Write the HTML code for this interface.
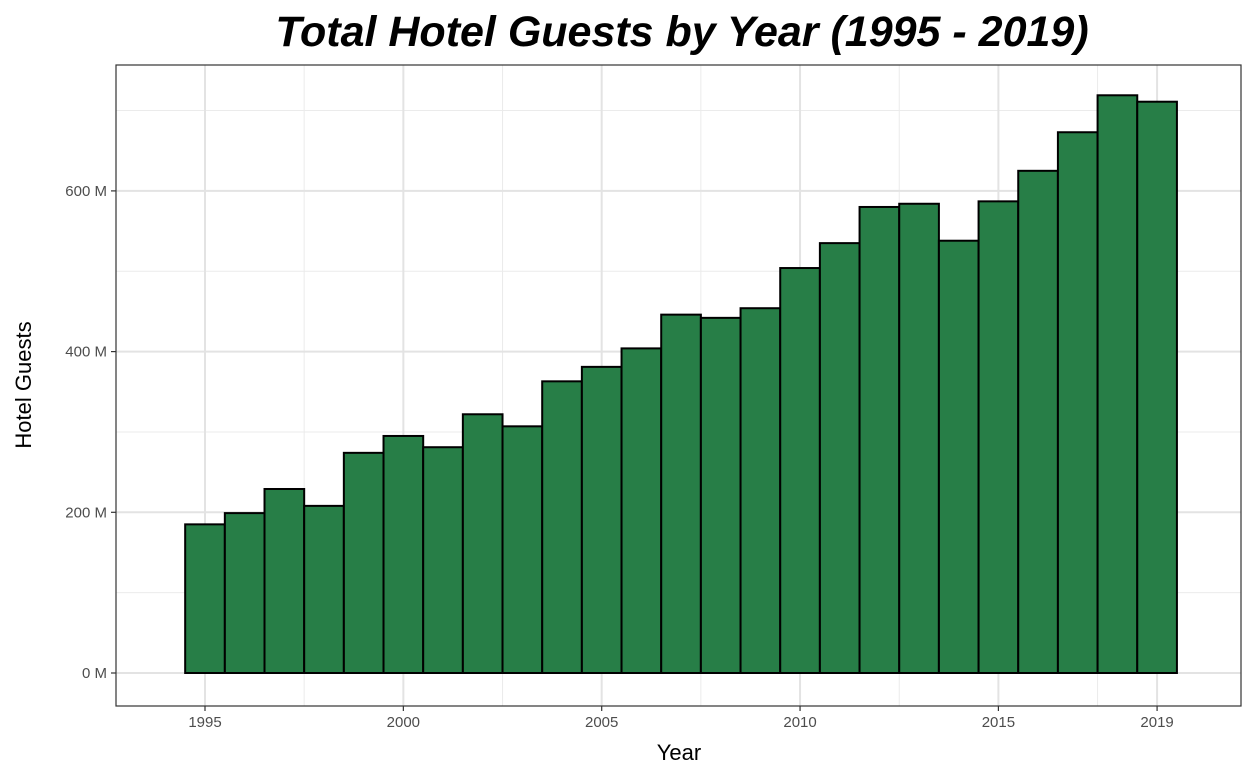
<!DOCTYPE html>
<html><head><meta charset="utf-8"><style>
body{margin:0;background:#fff;width:1259px;height:778px;overflow:hidden;font-family:"Liberation Sans",sans-serif}
</style></head><body>
<svg id="chart" width="1259" height="778" xmlns="http://www.w3.org/2000/svg">
<text x="682" y="46" text-anchor="middle" font-size="43" font-weight="bold" font-style="italic" fill="#000">Total Hotel Guests by Year (1995 - 2019)</text>
<g id="grid"></g>
<g id="bars"></g>
<rect x="116" y="65" width="1125" height="641" fill="none" stroke="#333" stroke-width="1.2"/>
<g id="axes"></g>
<text x="679" y="760" text-anchor="middle" font-size="22" fill="#000">Year</text>
<text transform="translate(31,385) rotate(-90)" text-anchor="middle" font-size="22" fill="#000">Hotel Guests</text>
</svg>
<script>
const years=[1995,1996,1997,1998,1999,2000,2001,2002,2003,2004,2005,2006,2007,2008,2009,2010,2011,2012,2013,2014,2015,2016,2017,2018,2019];
const guests=[185,199,229,208,274,295,281,322,307,363,381,404,446,442,454,504,535,580,584,538,587,625,673,719,711];
const xTicks=[1995,2000,2005,2010,2015,2019];
const yTicks=[0,200,400,600];
const yMinor=[100,300,500,700];
const xMinor=[1997.5,2002.5,2007.5,2012.5,2017.5];
const NS="http://www.w3.org/2000/svg";
const x=v=>205+(v-1995)*39.67;
const y=v=>673-v*160.7/200;
const grid=document.getElementById('grid'),bars=document.getElementById('bars'),axes=document.getElementById('axes');
function mk(tag,attrs,parent){const e=document.createElementNS(NS,tag);for(const k in attrs)e.setAttribute(k,attrs[k]);parent.appendChild(e);return e;}
yMinor.forEach(v=>{const l=mk('line',{x1:116,x2:1241,y1:y(v),y2:y(v),stroke:'#ebebeb','stroke-width':1},grid);

});
xMinor.forEach(v=>{const l=mk('line',{x1:x(v),x2:x(v),y1:65,y2:706,stroke:'#ebebeb','stroke-width':1},grid);

});
yTicks.forEach(v=>{const l=mk('line',{x1:116,x2:1241,y1:y(v),y2:y(v),stroke:'#e3e3e3','stroke-width':2},grid);


const t=mk('line',{x1:111,x2:116,y1:y(v),y2:y(v),stroke:'#333','stroke-width':1.2},axes);


const tx=mk('text',{x:107,y:y(v)+5,'text-anchor':'end','font-size':15,fill:'#4d4d4d'},axes);tx.textContent=v+' M';

});
xTicks.forEach(v=>{const l=mk('line',{x1:x(v),x2:x(v),y1:65,y2:706,stroke:'#e3e3e3','stroke-width':2},grid);


const t=mk('line',{x1:x(v),x2:x(v),y1:706,y2:711,stroke:'#333','stroke-width':1.2},axes);


const tx=mk('text',{x:x(v),y:727,'text-anchor':'middle','font-size':15,fill:'#4d4d4d'},axes);tx.textContent=v;

});
years.forEach((yr,i)=>{const r=mk('rect',{x:x(yr)-19.83,y:y(guests[i]),width:39.67,height:y(0)-y(guests[i]),fill:'#277e47',stroke:'#000','stroke-width':2},bars);

});
</script>
</body></html>
